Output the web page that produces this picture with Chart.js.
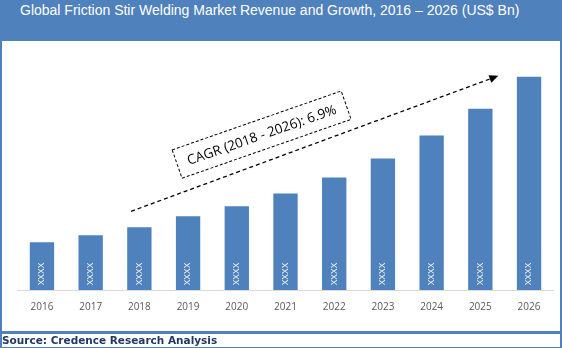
<!DOCTYPE html>
<html>
<head>
<meta charset="utf-8">
<script src="https://cdn.jsdelivr.net/npm/chart.js@4.4.0/dist/chart.umd.min.js"></script>
<style>
  body { margin: 0; width: 562px; height: 348px; position: relative; overflow: hidden; background: #fff; }
  #title { position: absolute; left: 0; top: 0; width: 562px; height: 41px; background: #4f81bd; color: #fff;
    font: 14px "Liberation Sans", Arial, sans-serif; line-height: 21px; padding-left: 20px; box-sizing: border-box; white-space: nowrap; }
  #wrap { position: absolute; left: 0; top: 41px; width: 562px; height: 290px; }
  #frame { position: absolute; left: 0; top: 41px; width: 562px; height: 292px; box-sizing: border-box;
    border: 2px solid #4f81bd; border-top: none; pointer-events: none; }
  #source { position: absolute; left: 0; top: 333px; width: 562px; height: 15px; box-sizing: border-box;
    border: 1px solid #4f81bd; border-left-width: 2px; border-right-width: 2px; color: #1f3864;
    font: bold 10.5px "DejaVu Sans", Verdana, sans-serif; line-height: 12px; padding-left: 0px; white-space: nowrap; }
</style>
</head>
<body>
<div id="title">Global Friction Stir Welding Market Revenue and Growth, 2016 – 2026 (US$ Bn)</div>
<div id="wrap"><canvas id="chart" width="562" height="290"></canvas></div>
<div id="frame"></div>
<div id="source">Source: Credence Research Analysis</div>
<script>
  // data (values are hidden as "XXXX" in the source)
  const years = ["2016", "2017", "2018", "2019", "2020", "2021", "2022", "2023", "2024", "2025", "2026"];
  const revenue = [0.96, 1.10, 1.26, 1.48, 1.68, 1.94, 2.26, 2.64, 3.10, 3.64, 4.28];
  const barText = ["XXXX", "XXXX", "XXXX", "XXXX", "XXXX", "XXXX", "XXXX", "XXXX", "XXXX", "XXXX", "XXXX"];
  const cagrText = "CAGR (2018 - 2026): 6.9%";
  // annotation anchors in [category index, value]
  const arrowFrom = [1.83, 1.58];
  const arrowTo = [9.37, 4.30];
  const boxAt = [4.51, 3.12];

  const blue = '#4f81bd';

  const barLabels = {
    id: 'barLabels',
    afterDatasetsDraw(chart) {
      const ctx = chart.ctx;
      const meta = chart.getDatasetMeta(0);
      ctx.save();
      ctx.fillStyle = '#fff';
      ctx.font = '8.5px "Liberation Sans", Arial, sans-serif';
      ctx.textAlign = 'center';
      ctx.textBaseline = 'middle';
      meta.data.forEach((bar, i) => {
        ctx.save();
        ctx.translate(bar.x, bar.base - 16);
        ctx.rotate(-Math.PI / 2);
        ctx.fillText(barText[i], 0, 0);
        ctx.restore();
      });
      ctx.restore();
    }
  };

  const cagr = {
    id: 'cagr',
    afterDraw(chart) {
      const ctx = chart.ctx;
      const x = chart.scales.x, y = chart.scales.y;
      const px = p => [x.getPixelForValue(p[0]), y.getPixelForValue(p[1])];
      const [x0, y0] = px(arrowFrom);
      const [x1, y1] = px(arrowTo);
      const ang = Math.atan2(y1 - y0, x1 - x0);
      const head = 9, half = 4;
      const bx = x1 - head * Math.cos(ang), by = y1 - head * Math.sin(ang);
      ctx.save();
      ctx.strokeStyle = '#000';
      ctx.fillStyle = '#000';
      ctx.lineWidth = 1.3;
      ctx.setLineDash([4, 3]);
      ctx.beginPath();
      ctx.moveTo(x0, y0);
      ctx.lineTo(bx, by);
      ctx.stroke();
      ctx.setLineDash([]);
      ctx.beginPath();
      ctx.moveTo(x1, y1);
      ctx.lineTo(bx + half * Math.sin(ang), by - half * Math.cos(ang));
      ctx.lineTo(bx - half * Math.sin(ang), by + half * Math.cos(ang));
      ctx.closePath();
      ctx.fill();

      // dashed text box
      const [cx, cy] = px(boxAt);
      ctx.translate(cx, cy);
      ctx.rotate(-19.2 * Math.PI / 180);
      ctx.fillStyle = '#fff';
      ctx.fillRect(-89.5, -15, 179, 30);
      ctx.lineWidth = 1;
      ctx.setLineDash([3, 2]);
      ctx.strokeRect(-89.5, -15, 179, 30);
      ctx.fillStyle = '#000';
      ctx.font = '13.5px "Open Sans", sans-serif';
      ctx.textAlign = 'center';
      ctx.textBaseline = 'middle';
      ctx.fillText(cagrText, 0, 1);
      ctx.restore();
    }
  };

  new Chart(document.getElementById('chart'), {
    type: 'bar',
    data: {
      labels: years,
      datasets: [{
        data: revenue,
        backgroundColor: blue,
        categoryPercentage: 1,
        barPercentage: 0.5
      }]
    },
    options: {
      responsive: false,
      animation: false,
      layout: { padding: { left: 17.6, right: 8.6, top: 0, bottom: 0 } },
      plugins: { legend: { display: false }, tooltip: { enabled: false } },
      scales: {
        x: {
          grid: { display: false, drawTicks: false },
          border: { display: true, color: '#d9d9d9', width: 1 },
          ticks: { color: '#595959', font: { family: '"Open Sans"', size: 10 }, padding: 11, maxRotation: 0 },
          afterFit(scale) { scale.height = 41; }
        },
        y: { display: false, min: 0, max: 5 }
      }
    },
    plugins: [barLabels, cagr]
  });
</script>
</body>
</html>
